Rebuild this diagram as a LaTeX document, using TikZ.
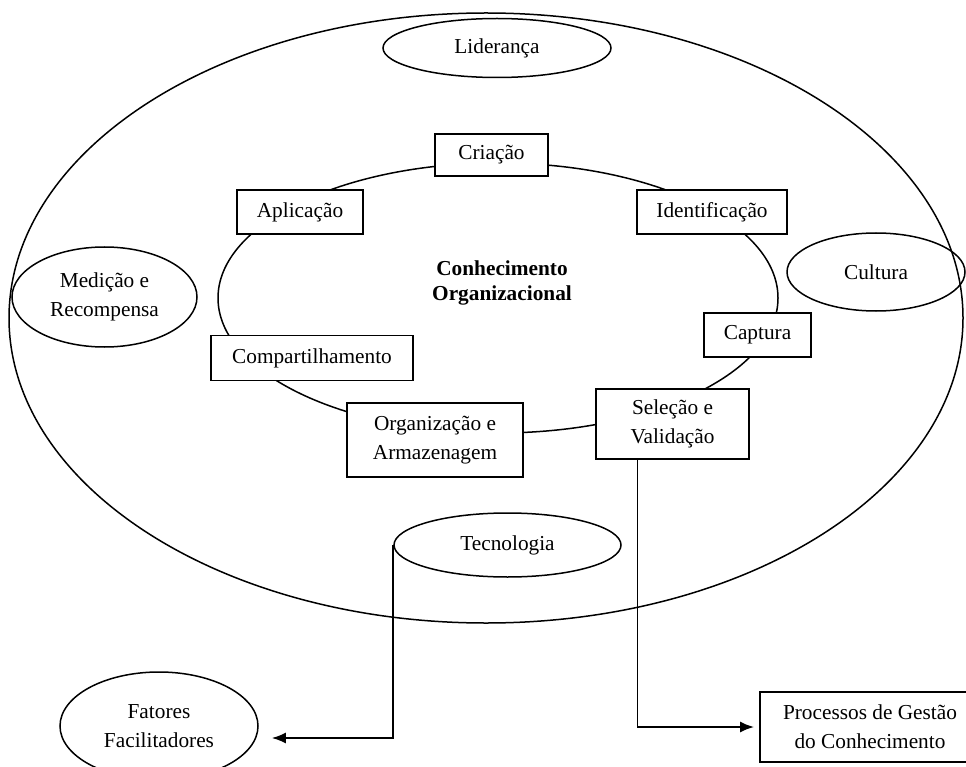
\documentclass[tikz,border=0pt]{standalone}
\usepackage{fontspec}
\setmainfont{Liberation Serif}
\usetikzlibrary{shapes.geometric,arrows.meta}
\begin{document}
\begin{tikzpicture}[x=1pt,y=-1pt,
  every node/.style={font=\fontsize{21.3}{29}\selectfont, align=center, inner sep=0pt},
  ring/.style={line width=1.5pt},
  stepbox/.style={draw, rectangle, fill=white, line width=1.8pt},
  factor/.style={draw, ellipse, line width=1.5pt},
  link/.style={line width=1.9pt, -{Latex[length=14pt,width=11pt]}}
]
\clip (0,0) rectangle (966,767);

% environment of facilitating factors and the knowledge cycle
\draw[ring] (486,318) ellipse [x radius=477pt, y radius=305pt];
\draw[ring] (498,298) ellipse [x radius=280pt, y radius=135pt];

\node[font=\fontsize{21.3}{25}\selectfont\bfseries] (core) at (502,283) {Conhecimento\\Organizacional};

% steps of the knowledge cycle
\node[stepbox, minimum width=113pt, minimum height=42pt] (cri) at (491.5,155) {Criação};
\node[stepbox, minimum width=126pt, minimum height=44pt] (apl) at (300,212) {Aplicação};
\node[stepbox, minimum width=150pt, minimum height=44pt] (ide) at (712,212) {Identificação};
\node[stepbox, minimum width=107pt, minimum height=44pt] (cap) at (757.5,335) {Captura};
\node[stepbox, minimum width=202pt, minimum height=45pt] (com) at (312,358) {Compartilhamento};
\node[stepbox, minimum width=176pt, minimum height=74pt] (org) at (435,440) {Organização e\\Armazenagem};
\node[stepbox, minimum width=153pt, minimum height=70pt] (sel) at (672.5,424) {Seleção e\\Validação};

% facilitating factors
\node[factor, minimum width=228pt, minimum height=59pt] (lid) at (497,48) {Liderança};
\node[factor, minimum width=178pt, minimum height=78pt] (cul) at (876,272) {Cultura};
\node[factor, minimum width=185pt, minimum height=100pt] (med) at (104.5,297) {Medição e\\Recompensa};
\node[factor, minimum width=227pt, minimum height=64pt] (tec) at (507.5,545) {Tecnologia};

% legend
\node[factor, minimum width=198pt, minimum height=108pt] (fat) at (159,726) {Fatores\\Facilitadores};
\node[stepbox, minimum width=220pt, minimum height=70pt] (proc) at (870,727) {Processos de Gestão\\do Conhecimento};

\draw[link] (tec.west) |- ([xshift=13pt,yshift=-12pt]fat.east);
\draw[link] ([xshift=-35pt]sel.south) |- ([xshift=-5pt]proc.west);
\end{tikzpicture}
\end{document}
